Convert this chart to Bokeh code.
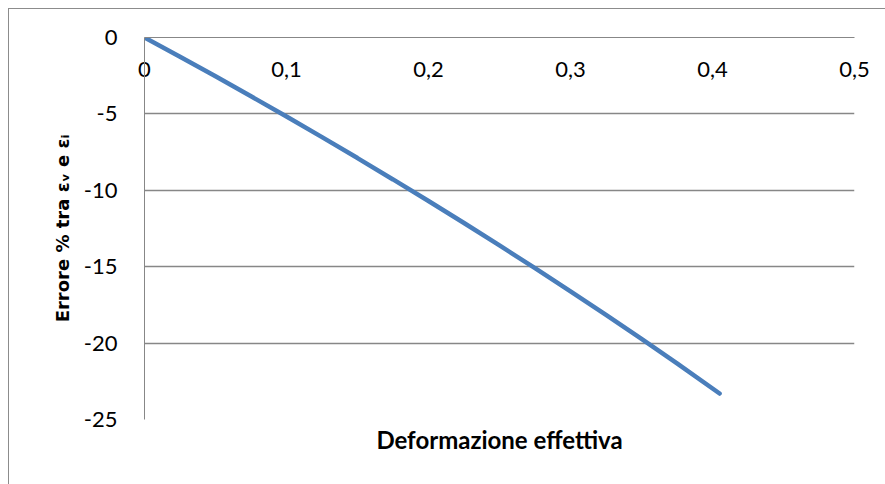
from bokeh.plotting import figure
from bokeh.models import FixedTicker, Title
from bokeh.embed import file_html
from bokeh.resources import INLINE

# Data
deformazione = [0, 0.025, 0.05, 0.075, 0.1, 0.125, 0.15, 0.175, 0.2, 0.225,
                0.25, 0.275, 0.3, 0.325, 0.35, 0.375, 0.405]
errore = [0, -1.26, -2.54, -3.85, -5.17, -6.52, -7.89, -9.29, -10.7, -12.14,
          -13.61, -15.1, -16.62, -18.16, -19.73, -21.33, -23.3]

x_ticks = [0, 0.1, 0.2, 0.3, 0.4, 0.5]
x_tick_labels = ["0", "0,1", "0,2", "0,3", "0,4", "0,5"]
y_ticks = [0, -5, -10, -15, -20, -25]
y_tick_labels = ["0", "-5", "-10", "-15", "-20", "-25"]

GRID = "#878787"
BLUE = "#4A7EBB"
BORDER = "#8c8c8c"

p = figure(width=877, height=476, x_range=(0, 0.5), y_range=(-25, 0),
           x_axis_location="above",
           output_backend="svg", toolbar_location=None,
           min_border_left=135, min_border_right=32,
           min_border_top=28, min_border_bottom=66)
p.margin = (8, 0, 0, 8)
p.styles = {"border-left": f"1px solid {BORDER}", "border-top": f"1px solid {BORDER}"}

p.background_fill_color = "white"
p.border_fill_color = "white"
p.outline_line_color = None

p.line(deformazione, errore, line_color=BLUE, line_width=4.5, line_cap="round")

# x axis: line at y = 0 (top of frame), labels hanging just below it
xa = p.xaxis[0]
xa.ticker = FixedTicker(ticks=x_ticks)
xa.major_label_overrides = dict(zip(x_ticks, x_tick_labels))
xa.axis_line_color = GRID
xa.major_tick_line_color = None
xa.minor_tick_line_color = None
xa.major_label_standoff = -45
xa.major_label_text_font = "Lato"
xa.major_label_text_font_size = "22px"
xa.major_label_text_color = "black"

ya = p.yaxis[0]
ya.ticker = FixedTicker(ticks=y_ticks)
ya.major_label_overrides = dict(zip(y_ticks, y_tick_labels))
ya.axis_line_color = GRID
ya.major_tick_line_color = None
ya.minor_tick_line_color = None
ya.major_label_standoff = 21
ya.major_label_text_font = "Lato"
ya.major_label_text_font_size = "22px"
ya.major_label_text_color = "black"
ya.axis_label = "Errore % tra εᵥ e εᵢ"
ya.axis_label_text_font = "DejaVu Sans"
ya.axis_label_text_font_style = "bold"
ya.axis_label_text_font_size = "18px"
ya.axis_label_standoff = 8
ya.axis_label_text_color = "black"

p.xgrid.visible = False
p.ygrid.ticker = FixedTicker(ticks=y_ticks)
p.ygrid.grid_line_color = GRID
p.ygrid.grid_line_width = 1.3

p.add_layout(Title(text="Deformazione effettiva", align="center",
                   text_font="Lato", text_font_style="bold",
                   text_font_size="24px", text_color="black",
                   standoff=6), "below")

open("out.html", "w").write(file_html(p, INLINE))
